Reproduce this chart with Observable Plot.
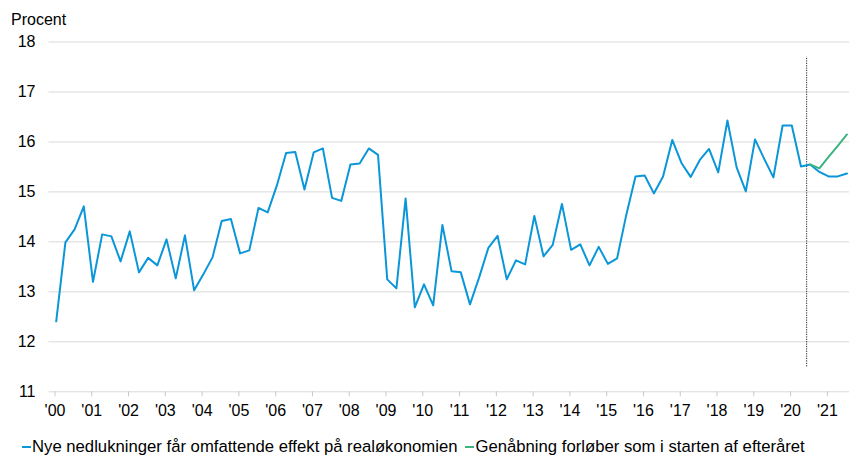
<!DOCTYPE html>
<html>
<head>
<meta charset="utf-8">
<script src="https://cdn.jsdelivr.net/npm/d3@7"></script>
<script src="https://cdn.jsdelivr.net/npm/@observablehq/plot@0.6"></script>
<style>
  html, body { margin: 0; padding: 0; background: #fff; overflow: hidden; }
  body { width: 849px; height: 459px; position: relative; font-family: "Liberation Sans", Arial, sans-serif; color: #000; }
  #unit { position: absolute; left: 11px; top: 10px; font-size: 16px; line-height: 20px; }
  #chart { position: absolute; left: 0; top: 0; }
  #legend { position: absolute; left: 22px; top: 437px; font-size: 16.7px; line-height: 20px; white-space: nowrap; }
  #legend .sw { display: inline-block; width: 9px; height: 2px; vertical-align: middle; margin-right: 1px; position: relative; top: -1px; }
  #legend .item { margin-right: 8px; }
</style>
</head>
<body>
<div id="chart"></div>
<div id="unit">Procent</div>
<div id="legend"></div>
<script>
// ---- Data ----
const startYear = 2000;               // first quarter = 2000 K1
const yearTicks = d3.range(2000, 2022); // '00 ... '21
const yTicks = [11, 12, 13, 14, 15, 16, 17, 18];

// Historical quarterly values, 2000 K1 - 2020 K3 (percent)
const historyValues = [
  12.41, 13.99, 14.25, 14.71,   // 2000
  13.20, 14.15, 14.11, 13.61,   // 2001
  14.21, 13.39, 13.68, 13.53,   // 2002
  14.05, 13.27, 14.13, 13.03,   // 2003
  13.35, 13.69, 14.42, 14.46,   // 2004
  13.77, 13.83, 14.68, 14.59,   // 2005
  15.13, 15.78, 15.80, 15.05,   // 2006
  15.79, 15.87, 14.88, 14.82,   // 2007
  15.55, 15.57, 15.87, 15.74,   // 2008
  13.25, 13.07, 14.87, 12.69,   // 2009
  13.15, 12.73, 14.34, 13.41,   // 2010
  13.39, 12.75, 13.29, 13.88,   // 2011
  14.12, 13.25, 13.63, 13.55,   // 2012
  14.52, 13.71, 13.94, 14.76,   // 2013
  13.84, 13.95, 13.53, 13.90,   // 2014
  13.56, 13.67, 14.54, 15.31,   // 2015
  15.33, 14.97, 15.31, 16.04,   // 2016
  15.58, 15.30, 15.64, 15.86,   // 2017
  15.39, 16.43, 15.49, 15.01,   // 2018
  16.05, 15.66, 15.29, 16.33,   // 2019
  16.33, 15.51, 15.55           // 2020 K1-K3
];
// Scenario paths, 2020 K3 - 2021 K3
const lockdownValues = [15.55, 15.40, 15.31, 15.31, 15.37];
const reopenValues   = [15.55, 15.47, 15.70, 15.92, 16.15];

const seriesNames = [
  "Nye nedlukninger får omfattende effekt på realøkonomien",
  "Genåbning forløber som i starten af efteråret"
];
const seriesColors = ["#0a96d8", "#3cb480"];

// Forecast divider (dotted line)
const dividerX = [2020.6];
const dividerY = [11.5, 17.7];

// ---- Build table ----
const quarterPos = i => startYear + 0.196 + i * 0.25; // point position inside quarter
const scenarioStart = historyValues.length - 1;
const rows = [];
historyValues.concat(lockdownValues.slice(1)).forEach((v, i) =>
  rows.push({series: seriesNames[0], t: quarterPos(i), v}));
reopenValues.forEach((v, i) =>
  rows.push({series: seriesNames[1], t: quarterPos(scenarioStart + i), v}));

const chart = Plot.plot({
  width: 849,
  height: 430,
  marginLeft: 48.5,
  marginRight: 0,
  marginTop: 41.5,
  marginBottom: 38.7,
  style: {fontFamily: '"Liberation Sans", Arial, sans-serif', fontSize: "16px", color: "#000", background: "transparent"},
  x: {domain: [2000, 2021.765]},
  y: {domain: [11, 18]},
  color: {domain: seriesNames, range: seriesColors},
  marks: [
    Plot.gridY(yTicks, {stroke: "#d9d9d9", strokeOpacity: 1, strokeWidth: 1}),
    Plot.axisY(yTicks, {tickSize: 0, tickPadding: 13.5, tickFormat: d => String(d), label: null, fill: "#000"}),
    Plot.axisX(yearTicks, {
      tickSize: 5, tickPadding: 8, stroke: "#c8c8c8", fill: "#000",
      tickFormat: d => "'" + String(d % 100).padStart(2, "0"),
      dx: 6, label: null
    }),
    Plot.ruleX(dividerX, {y1: dividerY[0], y2: dividerY[1], stroke: "#222", strokeWidth: 1, strokeDasharray: "1.2,1.2"}),
    Plot.line(rows, {x: "t", y: "v", z: "series", stroke: "series", strokeWidth: 2, curve: "linear", clip: true})
  ]
});
document.getElementById("chart").appendChild(chart);

// ---- Legend ----
const legend = document.getElementById("legend");
seriesNames.forEach((name, i) => {
  const item = document.createElement("span");
  item.className = "item";
  const sw = document.createElement("span");
  sw.className = "sw";
  sw.style.background = seriesColors[i];
  item.appendChild(sw);
  item.appendChild(document.createTextNode(name));
  legend.appendChild(item);
});
</script>
</body>
</html>
